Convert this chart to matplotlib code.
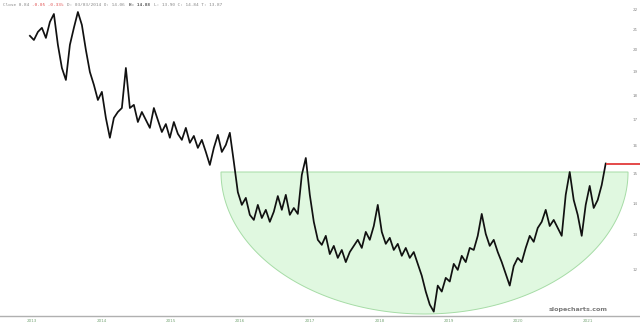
import numpy as np
import pandas as pd
import matplotlib
matplotlib.use("Agg")
from matplotlib import pyplot as plt
import matplotlib.dates as mdates
from matplotlib.patches import Polygon

# closing prices (roughly every 3 weeks)
closes = [20.67, 20.47, 20.86, 21.06, 20.57, 21.35, 21.75, 20.24, 19.18, 18.65,
          20.24, 21.06, 21.85, 21.20, 20.00, 19.00, 18.44, 17.80, 18.14, 17.07,
          16.30, 17.07, 17.31, 17.47, 19.18, 17.47, 17.60, 16.91, 17.31, 16.99,
          16.68, 17.47, 16.99, 16.52, 16.83, 16.30, 16.91, 16.45, 16.22, 16.68,
          16.11, 16.37, 15.92, 16.22, 15.77, 15.30, 15.92, 16.41, 15.77, 16.03,
          16.49, 15.41, 14.36, 13.94, 14.17, 13.62, 13.46, 13.94, 13.52, 13.78,
          13.40, 13.72, 14.23, 13.78, 14.27, 13.62, 13.84, 13.65, 14.95, 15.55,
          14.27, 13.40, 12.85, 12.70, 12.97, 12.43, 12.67, 12.32, 12.55, 12.20,
          12.49, 12.67, 12.85, 12.61, 13.09, 12.85, 13.27, 13.94, 13.09, 12.73,
          12.91, 12.55, 12.73, 12.38, 12.61, 12.32, 12.49, 12.15, 11.82, 11.39,
          11.05, 10.87, 11.55, 11.39, 11.76, 11.66, 12.15, 11.98, 12.38, 12.20,
          12.61, 12.55, 12.97, 13.65, 13.03, 12.67, 12.85, 12.49, 12.20, 11.87,
          11.55, 12.09, 12.32, 12.20, 12.61, 12.97, 12.79, 13.21, 13.40, 13.78,
          13.27, 13.46, 13.21, 12.97, 14.27, 15.05, 14.10, 13.62, 12.97, 13.94,
          14.57, 13.84, 14.10, 14.60, 15.35]
dates = pd.date_range("2012-12-21", "2021-04-04", periods=len(closes))

year_ticks = [2013, 2014, 2015, 2016, 2017, 2018, 2019, 2020, 2021]
price_ticks = [12, 13, 14, 15, 16, 17, 18, 19, 20, 21, 22]

fig = plt.figure(figsize=(6.4, 3.27), dpi=100)
ax = fig.add_axes([0, 11 / 327, 1, 316 / 327])

# rounded-bottom "bowl" drawn behind the prices (axes coords)
t = np.linspace(np.pi, 2 * np.pi, 200)
cx, top, wx, hy = 0.6633, 0.4557, 0.318, 0.4494
bowl = np.column_stack([cx + wx * np.cos(t), top + hy * np.sin(t)])
ax.add_patch(Polygon(bowl, closed=True, transform=ax.transAxes,
                     facecolor="#e0f8e0", edgecolor="#a6dca6", lw=0.7, zorder=1))

ax.plot(dates, closes, color="#111111", lw=1.25, zorder=3)

# last price marker
last = dates[-1]
ax.hlines(closes[-1], last, pd.Timestamp("2021-10-01"), color="#e23a3a", lw=1.3, zorder=4)

ax.set_yscale("log")
ax.set_ylim(10.76, 22.47)
x0 = mdates.date2num(pd.Timestamp("2013-01-01"))
ax.set_xlim(x0 - 32 / 69.5 * 365.25, x0 + 608 / 69.5 * 365.25)

ax.set_yticks(price_ticks)
ax.set_yticklabels([str(p) for p in price_ticks])
ax.yaxis.set_minor_locator(plt.NullLocator())
ax.yaxis.tick_right()
ax.tick_params(axis="y", length=0, pad=-5, labelsize=3, labelcolor="#888888")

ax.set_xticks([pd.Timestamp(f"{y}-01-01") for y in year_ticks])
ax.set_xticklabels([str(y) for y in year_ticks])
ax.tick_params(axis="x", length=0, pad=2, labelsize=3, labelcolor="#7aa87a")

for s in ["top", "left", "right"]:
    ax.spines[s].set_visible(False)
ax.spines["bottom"].set_color("#b0b0b0")
ax.spines["bottom"].set_linewidth(1)

# header line (monospace, ~2.7px per character)
mono = "DejaVu Sans Mono"
hy_ = 1 - 5 / 327
fig.text(3 / 640, hy_, "Close 0.84", fontsize=3.2, family=mono, color="#888888", va="center")
fig.text(32 / 640, hy_, "-0.05 -0.33%", fontsize=3.2, family=mono, color="#e05050", va="center")
fig.text(67 / 640, hy_, "D: 03/03/2014 O: 14.06", fontsize=3.2, family=mono, color="#888888", va="center")
fig.text(129 / 640, hy_, "H: 14.88", fontsize=3.2, family=mono, color="#555555", va="center", weight="bold")
fig.text(154 / 640, hy_, "L: 13.90 C: 14.84 T: 13.87", fontsize=3.2, family=mono, color="#888888", va="center")

fig.text(608 / 640, 1 - 309 / 327, "slopecharts.com", fontsize=4.6, weight="bold",
         color="#7a7a7a", ha="right", va="center")

plt.savefig("out.png", dpi=100)
